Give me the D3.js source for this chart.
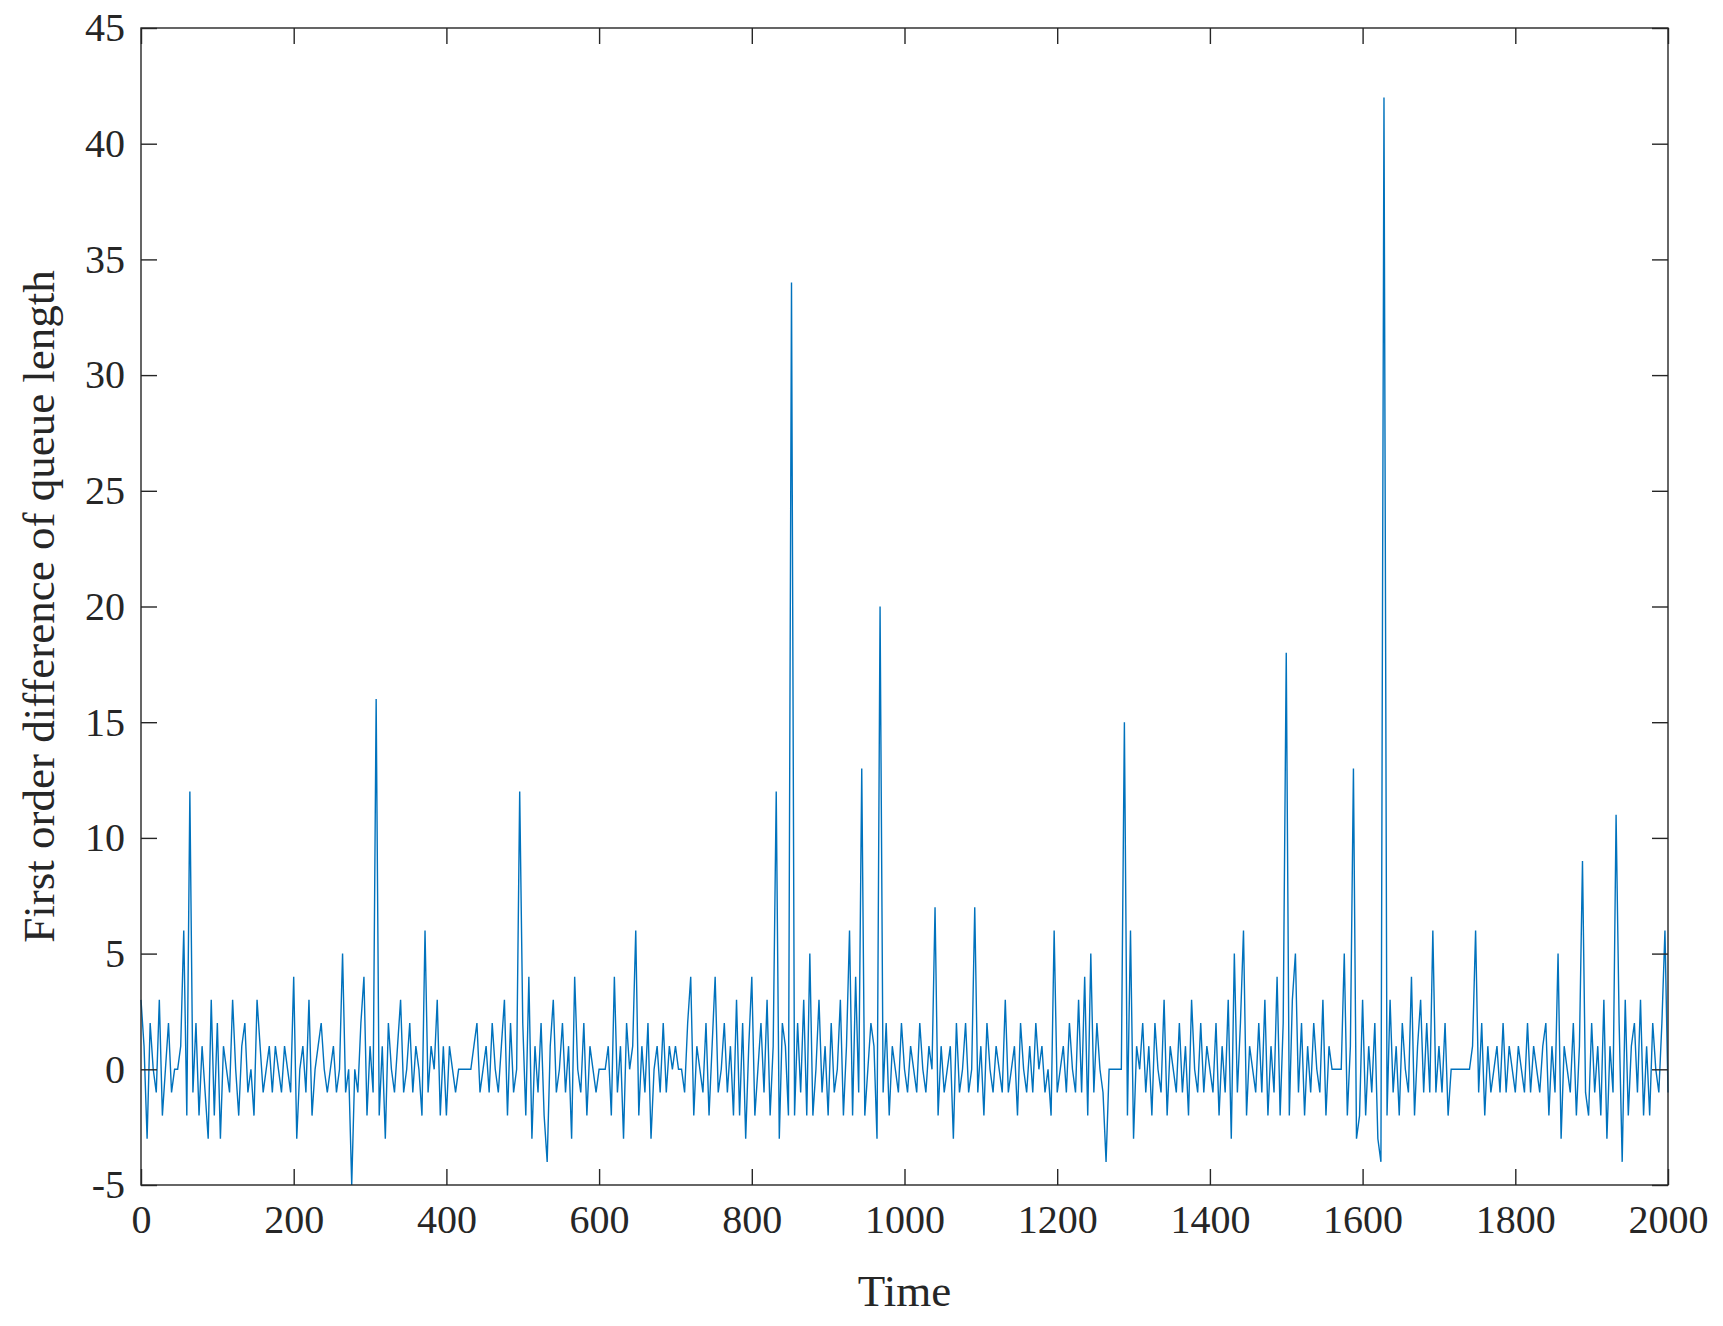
<!DOCTYPE html>
<html><head><meta charset="utf-8">
<script src="https://cdn.jsdelivr.net/npm/d3@7"></script>
<style>body{margin:0;background:#fff}</style></head>
<body><svg id="c" width="1723" height="1326"></svg>
<script>
const timeStep = 4;
const values = [
3,1,-3,2,0,-1,3,-2,0,2,-1,0,0,1,6,-2,12,-1,2,-2,1,-1,-3,3,-2,
2,-3,1,0,-1,3,0,-2,1,2,-1,0,-2,3,1,-1,0,1,-1,1,0,-1,1,0,-1,
4,-3,0,1,-1,3,-2,0,1,2,0,-1,0,1,-1,0,5,-1,0,-5,0,-1,2,4,-2,
1,-1,16,-2,1,-3,2,0,-1,1,3,-1,0,2,-1,1,0,-2,6,-1,1,0,3,-2,1,
-2,1,0,-1,0,0,0,0,0,1,2,-1,0,1,-1,2,0,-1,1,3,-2,2,-1,0,12,
2,-2,4,-3,1,-1,2,-2,-4,1,3,-1,0,2,-1,1,-3,4,0,-1,2,-2,1,0,-1,
0,0,0,1,-2,4,-1,1,-3,2,0,1,6,-2,1,-1,2,-3,0,1,-1,2,-1,1,0,
1,0,0,-1,2,4,-2,1,0,-1,2,-2,1,4,-1,0,2,-1,1,-2,3,-2,2,-3,1,
4,-2,0,2,-1,3,-2,1,12,-3,2,1,-2,34,-2,2,-1,3,-2,5,-2,0,3,-1,1,
-2,2,-1,0,3,-2,1,6,-2,4,-1,13,-2,0,2,1,-3,20,-1,2,-2,1,0,-1,2,
0,-1,1,0,-1,2,0,-1,1,0,7,-2,1,-1,0,1,-3,2,-1,0,2,-1,0,7,-1,
1,-2,2,0,-1,1,0,-1,3,-1,0,1,-2,2,0,-1,1,-1,2,0,1,-1,0,-2,6,
-1,0,1,-1,2,0,-1,3,-1,4,-2,5,-1,2,0,-1,-4,0,0,0,0,0,15,-2,6,
-3,1,0,2,-1,1,-2,2,0,-1,3,-2,1,0,-1,2,-1,1,-2,3,0,-1,2,-1,1,
0,-1,2,-2,1,-1,3,-3,5,-1,2,6,-2,1,0,-1,2,-1,3,-2,1,-1,4,-2,2,
18,-2,3,5,-1,2,-2,1,-1,2,0,-1,3,-2,1,0,0,0,0,5,-2,1,13,-3,-2,
3,-2,1,-1,2,-3,-4,42,-2,3,-1,1,-2,2,0,-1,4,-2,1,3,-1,2,-1,6,-1,
1,-1,2,-2,0,0,0,0,0,0,0,1,6,-1,2,-2,1,-1,0,1,-1,2,-1,1,0,
-1,1,0,-1,2,-1,1,0,-1,1,2,-2,1,-1,5,-3,1,0,-1,2,-2,1,9,-1,-2,
2,-1,1,-2,3,-3,1,-1,11,2,-4,3,-2,1,2,-1,3,-2,1,-2,2,0,-1,2,6,
-1];
const xTicks = [0,200,400,600,800,1000,1200,1400,1600,1800,2000];
const yTicks = [-5,0,5,10,15,20,25,30,35,40,45];

const svg = d3.select("#c");
const L=141,R=1668,T=28,B=1185;
const x = d3.scaleLinear().domain([0,2000]).range([L,R]);
const y = d3.scaleLinear().domain([-5,45]).range([B,T]);
const font = "'Liberation Serif', 'Times New Roman', serif";

svg.append("path").datum(values)
  .attr("fill","none").attr("stroke","#0072BD").attr("stroke-width",1.4)
  .attr("d", d3.line().x((d,i)=>x(i*timeStep)).y(d=>y(d)));

svg.append("rect").attr("x",L).attr("y",T).attr("width",R-L).attr("height",B-T)
  .attr("fill","none").attr("stroke","#262626").attr("stroke-width",1.4);

const tk = 16;
const fmt = d => String(d);
function style(g){
  g.select(".domain").remove();
  g.selectAll("line").attr("stroke","#262626").attr("stroke-width",1.4);
  g.selectAll("text").attr("font-family",font).attr("font-size",40).attr("fill","#262626");
}
svg.append("g").attr("transform",`translate(0,${B})`)
  .call(d3.axisBottom(x).tickValues(xTicks).tickSize(-tk).tickPadding(20).tickFormat(fmt)).call(style);
svg.append("g").attr("transform",`translate(0,${T})`)
  .call(d3.axisTop(x).tickValues(xTicks).tickSize(-tk).tickFormat("")).call(style);
svg.append("g").attr("transform",`translate(${L},0)`)
  .call(d3.axisLeft(y).tickValues(yTicks).tickSize(-tk).tickPadding(16).tickFormat(fmt)).call(style);
svg.append("g").attr("transform",`translate(${R},0)`)
  .call(d3.axisRight(y).tickValues(yTicks).tickSize(-tk).tickFormat("")).call(style);

svg.append("text").attr("x",(L+R)/2).attr("y",1306).attr("text-anchor","middle")
  .attr("font-family",font).attr("font-size",45).attr("fill","#262626").text("Time");
svg.append("text").attr("transform",`translate(54,${(T+B)/2}) rotate(-90)`).attr("text-anchor","middle")
  .attr("font-family",font).attr("font-size",45).attr("fill","#262626").text("First order difference of queue length");
</script></body></html>
